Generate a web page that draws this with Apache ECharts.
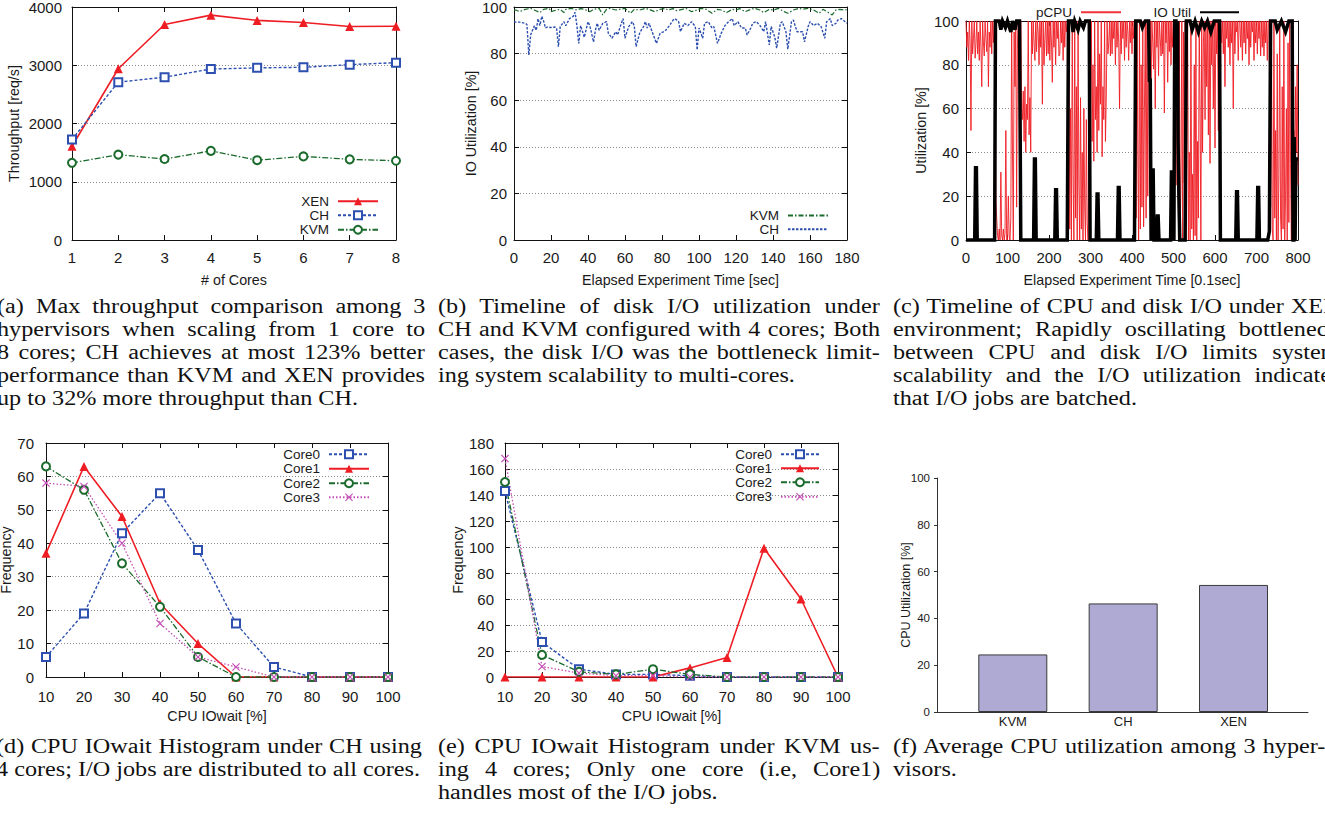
<!DOCTYPE html>
<html>
<head>
<meta charset="utf-8">
<script src="https://cdn.jsdelivr.net/npm/echarts@6.0.0/dist/echarts.min.js"></script>
<style>
html,body{margin:0;padding:0;background:#fff;width:1325px;height:813px;overflow:hidden;}
#chart{position:absolute;left:0;top:0;width:1325px;height:813px;}
.cap{position:absolute;transform-origin:0 0;font-family:'Liberation Serif','Times New Roman',Times,serif;font-size:20px;line-height:22.9px;color:#111;}
.cap div{white-space:nowrap;}
</style>
</head>
<body>
<div id="chart"></div>
<div id="caps"></div>
<script>
// ---------------- data ----------------
// (a) throughput vs cores
const coresA = [1,2,3,4,5,6,7,8];
const xenA = [1610,2940,3700,3860,3770,3735,3665,3670];
const chA  = [1725,2710,2795,2935,2955,2965,3010,3045];
const kvmA = [1325,1465,1390,1530,1370,1435,1385,1360];

// (b) IO utilization timeline (sec, %)
const chT = [0,1,3,6,7,8,9,10,11,12,13,14,15,16,17,18,20,22,23,24,25,27,28,30,32,33,34,35,36,38,40,41,43,44,45,46,48,50,51,53,55,56,58,59,60,62,64,65,66,68,70,71,72,73,75,77,79,81,82,84,86,87,89,90,92,94,96,98,99,100,102,103,105,107,108,110,112,114,116,118,119,121,123,125,126,128,129,131,133,135,136,138,139,141,142,144,145,147,148,150,151,153,155,156,157,159,160,162,164,166,168,169,171,172,174,175,177,179,180];
const chV = [93.7,93.5,93.5,93,92.5,79.4,88,90,92,90,95,92,96,94,91,91.4,91.2,91.4,91,83,91.6,93.7,92,95,96,97.7,92,84.4,92,87,93.7,92,85,90,93,90,93,93.7,88.7,86.6,89.4,88,93,95,86.6,91.6,93.7,92,83,89,91.6,93.7,91,93,88.7,84.4,88.7,89.4,90,92,94.4,95,93.7,89.4,93,92,93.7,91.6,81.6,91,86.6,93,93.7,91,91.6,84.4,88.7,92,93.7,95,92,93.7,91,91,88,91,93,93.7,92,89.4,93.7,83.7,91.6,87,82.3,93,93.7,89.4,81.9,93.7,94.4,89.4,89.4,89.4,85,91.6,93.7,92,93,91.6,86.6,93.7,95,92,93,94.4,95,93.7,93];
const kvT = [0,1,3,6,9,11,14,16,19,20,23,25,27,28,31,34,36,38,41,43,46,48,50,52,55,57,60,63,65,68,71,73,76,79,82,83,86,88,91,93,96,99,101,104,107,110,112,115,118,120,122,125,128,130,133,135,138,140,143,146,148,151,154,156,159,162,165,167,170,172,174,176,179,180];
const kvV = [98.7,98.7,98,99,99.4,98.7,97.6,99,99.4,98,98.7,99,97.6,99,99.4,98.7,99.3,99,98,99,99.4,96.6,99,99.4,98.7,99,99.4,97.3,99,98.7,99.4,99,98,99,99.4,98.7,99.3,98.4,99,99.4,98,98.7,99.4,99,97.3,99,98.7,97.6,99,98.7,99.3,98,99,99.4,98.7,97.6,99,98.7,99.4,98,97.3,98.7,99.4,99,99.4,98.7,97.3,99,97.6,96.6,98.7,99,98.7,99];

// (c) pCPU sampled every 2 units of 0.1 sec; IO util as (time, %) points
const cpuStep = 2;
const cpuC = [
100,88,95,82,100,90,50,100,85,92,
100,83,90,100,85,95,82,100,88,70,
100,90,84,100,92,86,100,70,95,88,
100,85,100,90,100,100,18,10,2,0,
5,0,31,2,0,5,0,3,50,0,
0,20,2,0,10,100,40,0,95,70,
100,15,90,100,70,5,100,60,55,68,
45,70,40,62,55,100,48,65,40,100,
85,100,90,82,100,86,100,95,80,100,
88,100,62,100,80,92,100,84,100,85,
100,82,100,90,72,100,88,100,80,100,
92,100,84,85,100,90,100,82,100,88,
100,95,100,20,100,5,60,0,100,30,
0,100,10,70,0,100,25,0,65,5,
40,0,60,15,0,55,8,0,30,100,
60,100,45,80,36,100,55,70,40,100,
50,85,62,100,38,70,55,100,45,65,
100,85,90,100,84,100,85,100,92,100,
80,100,88,100,90,60,100,85,100,92,
100,82,100,88,100,95,82,100,90,100,
85,100,92,100,100,10,100,40,0,100,
5,80,15,100,6,60,100,10,100,20,
100,85,100,70,100,90,78,100,60,100,
88,100,75,100,92,84,100,85,100,58,
100,90,100,72,100,86,100,80,100,88,
100,65,100,25,100,50,10,100,0,30,
100,0,95,26,100,0,60,100,0,40,
0,100,5,30,0,80,2,100,0,45,
10,100,60,0,100,40,90,100,55,100,
70,100,48,100,35,100,80,100,60,100,
42,100,85,100,50,100,20,100,90,100,
85,100,70,100,92,100,88,100,80,100,
90,100,60,100,85,100,95,100,82,100,
100,88,100,82,100,90,100,85,100,92,
100,80,100,88,100,95,100,82,100,90,
100,85,100,92,100,84,100,88,100,84,
100,90,100,82,100,100,60,15,100,5,
0,100,10,50,0,85,0,30,100,10,
0,70,5,100,0,20,60,0,90,8,
100,35,0,80,25,50,30,70,40,80,
25];
const ioT = [0,21,23,25,27,69,71,80,84,88,95,100,108,112,118,122,129,132,163,165,167,169,214,216,218,220,244,247,255,258,262,270,275,283,288,297,299,314,316,318,320,365,367,369,371,406,409,420,425,432,440,442,444,446,449,451,453,459,461,463,465,493,495,499,501,503,506,508,510,511,513,515,528,531,540,545,552,560,568,575,582,590,598,611,613,650,652,654,656,701,703,705,707,727,731,734,745,750,760,770,778,786,788,790,791,793,795,800];
const ioV = [0,0,33,33,0,0,100,100,96,100,97,100,95,100,96,100,100,0,0,37,37,0,0,23,23,0,0,100,100,95,100,96,100,97,100,100,0,0,21,21,0,0,24,24,0,0,100,100,97,100,100,73,73,0,32,32,0,0,11,11,0,0,31,31,0,100,100,87,100,45,20,0,0,100,100,96,100,95,100,97,100,95,100,100,0,0,22,22,0,0,24,24,0,0,4,100,100,96,100,95,100,100,0,0,47,0,37,37];

// (d) CPU IOwait histogram, CH
const binsD = [10,20,30,40,50,60,70,80,90,100];
const core0D = [6,19,43,55,38,16,3,0,0,0];
const core1D = [37,63,48,22,10,0,0,0,0,0];
const core2D = [63,56,34,21,6,0,0,0,0,0];
const core3D = [58,57,40,16,6,3,0,0,0,0];

// (e) CPU IOwait histogram, KVM
const binsE = [10,20,30,40,50,60,70,80,90,100];
const core0E = [143,27,6,2,2,1,0,0,0,0];
const core1E = [0,0,0,0,0,7,15,99,60,0];
const core2E = [150,17,4,2,6,2,0,0,0,0];
const core3E = [168,8,3,1,1,0,0,0,0,0];

// (f) average CPU utilization
const hypF = ['KVM','CH','XEN'];
const cpuF = [24.6,46.4,54.3];

// captions
const capA = ['(a) Max throughput comparison among 3','hypervisors when scaling from 1 core to','8 cores; CH achieves at most 123% better','performance than KVM and XEN provides','up to 32% more throughput than CH.'];
const capB = ['(b) Timeline of disk I/O utilization under','CH and KVM configured with 4 cores; Both','cases, the disk I/O was the bottleneck limit-','ing system scalability to multi-cores.'];
const capC = ['(c) Timeline of CPU and disk I/O under XEN','environment; Rapidly oscillating bottleneck','between CPU and disk I/O limits system','scalability and the I/O utilization indicates','that I/O jobs are batched.'];
const capD = ['(d) CPU IOwait Histogram under CH using','4 cores; I/O jobs are distributed to all cores.'];
const capE = ['(e) CPU IOwait Histogram under KVM us-','ing 4 cores; Only one core (i.e, Core1)','handles most of the I/O jobs.'];
const capF = ['(f) Average CPU utilization among 3 hyper-','visors.'];

// ---------------- style / layout ----------------
const W = 1325;
const FONT = "'Liberation Sans', Arial, Helvetica, sans-serif";
const TXT = '#1a1a1a';
const AX = '#111';
const RED = '#ee1d24', BLUE = '#2c4fb0', GREEN = '#1b6b2c', MAG = '#c54fb6', BLACK = '#000';
const XSYM = 'path://M1,0L5,4L9,0L10,1L6,5L10,9L9,10L5,6L1,10L0,9L4,5L0,1Z';
const pairs = (xs, ys) => xs.map((x, i) => [x, ys[i]]);
const plain = v => String(v);

const option = {
  animation: false,
  backgroundColor: '#fff',
  textStyle: {fontFamily: FONT},
  grid: [
    {left:72, top:7, width:324, height:233},
    {left:514, top:7, width:333, height:233},
    {left:966, top:21, width:332, height:219},
    {left:46, top:443, width:342, height:234},
    {left:505, top:443, width:333, height:234},
    {left:937, top:478, width:371, height:234}
  ].map(g => Object.assign({outerBoundsMode:'none', containLabel:false}, g)),
  xAxis: [], yAxis: [], legend: [], series: []
};

function gnuplotPanel(gi, xr, yr, xname, yname, lay) {
  const line = {show:true, onZero:false, lineStyle:{color:AX, width:1}};
  const tick = {show:true, inside:true, length:5, lineStyle:{color:AX, width:1}};
  const lab = {color:TXT, fontSize:15, fontFamily:FONT, formatter:plain};
  const nameStyle = {color:TXT, fontSize:14.3, fontFamily:FONT};
  option.xAxis.push({gridIndex:gi, type:'value', position:'bottom', min:xr[0], max:xr[1], interval:xr[2],
    axisLine:line, axisTick:tick, splitLine:{show:false},
    axisLabel:Object.assign({margin:lay.xm}, lab),
    name:xname, nameLocation:'middle', nameGap:lay.xg, nameTextStyle:nameStyle, nameMoveOverlap:false});
  option.xAxis.push({gridIndex:gi, type:'value', position:'top', min:xr[0], max:xr[1], interval:xr[2],
    axisLine:line, axisTick:tick, splitLine:{show:false}, axisLabel:{show:false}});
  option.yAxis.push({gridIndex:gi, type:'value', position:'left', min:yr[0], max:yr[1], interval:yr[2],
    axisLine:line, axisTick:tick,
    splitLine:{show:true, showMinLine:false, showMaxLine:false, lineStyle:{color:'#8a8a8a', type:[1,2], width:1}},
    axisLabel:Object.assign({margin:lay.ym}, lab),
    name:yname, nameLocation:'middle', nameGap:lay.yg, nameTextStyle:nameStyle, nameMoveOverlap:false});
  option.yAxis.push({gridIndex:gi, type:'value', position:'right', min:yr[0], max:yr[1], interval:yr[2],
    axisLine:line, axisTick:tick, splitLine:{show:false}, axisLabel:{show:false}});
}

function addLegend(name, label, iconRight, rowY, w, noSym) {
  const L = {data:[name], formatter:() => label, orient:'vertical', align:'right',
    right: W - iconRight, top: rowY - 6.75, itemWidth: w, itemHeight: 10, itemGap: 0, padding: 0,
    selectedMode: false, textStyle:{color:TXT, fontSize:13.5, fontFamily:FONT, padding:[0,4,0,0]}};
  if (noSym) L.itemStyle = {opacity: 0};
  option.legend.push(L);
}

function lineSeries(name, p, data, st) {
  return Object.assign({type:'line', name, xAxisIndex:2*p, yAxisIndex:2*p, data,
    animation:false, emphasis:{disabled:true}}, st);
}
const sXEN = c => ({symbol:'triangle', symbolSize:9, lineStyle:{color:c, width:1.6}, itemStyle:{color:c}});
const sDot = c => ({symbol:'emptyRect', symbolSize:8, lineStyle:{color:c, width:1.4, type:[3,2]}, itemStyle:{color:c, borderWidth:1.2}});
const sDashDot = c => ({symbol:'emptyCircle', symbolSize:8, lineStyle:{color:c, width:1.3, type:[6,2,1.5,2]}, itemStyle:{color:c, borderWidth:1.2}});
const sX = c => ({symbol:XSYM, symbolSize:8, lineStyle:{color:c, width:1.3, type:[1.5,2]}, itemStyle:{color:c}});

// (a)
gnuplotPanel(0, [1,8,1], [0,4000,1000], '# of Cores', 'Throughput [req/s]', {xm:10, xg:33, ym:10, yg:51});
option.series.push(lineSeries('a-XEN', 0, pairs(coresA, xenA), sXEN(RED)));
option.series.push(lineSeries('a-CH', 0, pairs(coresA, chA), sDot(BLUE)));
option.series.push(lineSeries('a-KVM', 0, pairs(coresA, kvmA), sDashDot(GREEN)));
addLegend('a-XEN', 'XEN', 379, 201, 40);
addLegend('a-CH', 'CH', 379, 215, 40);
addLegend('a-KVM', 'KVM', 379, 229.5, 40);

// (b)
gnuplotPanel(1, [0,180,20], [0,100,20], 'Elapsed Experiment Time [sec]', 'IO Utilization [%]', {xm:10, xg:33, ym:7, yg:36});
option.series.push(lineSeries('b-KVM', 1, pairs(kvT, kvV), {symbol:'none', lineStyle:{color:GREEN, width:1.2, type:[5,2,1.5,2]}, itemStyle:{color:GREEN}}));
option.series.push(lineSeries('b-CH', 1, pairs(chT, chV), {symbol:'none', lineStyle:{color:BLUE, width:1.4, type:[2.5,1.5]}, itemStyle:{color:BLUE}}));
addLegend('b-KVM', 'KVM', 829, 215.3, 40, true);
addLegend('b-CH', 'CH', 829, 229, 40, true);

// (c)
gnuplotPanel(2, [0,800,100], [0,100,20], 'Elapsed Experiment Time [0.1sec]', 'Utilization [%]', {xm:10, xg:33, ym:7, yg:38});
option.series.push(lineSeries('c-pCPU', 2, cpuC.map((v, i) => [i * cpuStep, v]), {symbol:'none', clip:true, lineStyle:{color:RED, width:1, opacity:0.9}, itemStyle:{color:RED}}));
option.series.push(lineSeries('c-IO', 2, pairs(ioT, ioV), {symbol:'none', clip:false, lineStyle:{color:BLACK, width:3.5, join:'miter'}, itemStyle:{color:BLACK}}));
addLegend('c-pCPU', 'pCPU', 1122, 12, 40, true);
addLegend('c-IO', 'IO Util', 1240, 12, 39, true);

// (d)
gnuplotPanel(3, [10,100,10], [0,70,10], 'CPU IOwait [%]', 'Frequency', {xm:12, xg:32, ym:12, yg:33});
option.series.push(lineSeries('d-Core0', 3, pairs(binsD, core0D), sDot(BLUE)));
option.series.push(lineSeries('d-Core1', 3, pairs(binsD, core1D), sXEN(RED)));
option.series.push(lineSeries('d-Core2', 3, pairs(binsD, core2D), sDashDot(GREEN)));
option.series.push(lineSeries('d-Core3', 3, pairs(binsD, core3D), sX(MAG)));
addLegend('d-Core0', 'Core0', 370, 454, 40);
addLegend('d-Core1', 'Core1', 370, 468.5, 40);
addLegend('d-Core2', 'Core2', 370, 483, 40);
addLegend('d-Core3', 'Core3', 370, 497, 40);

// (e)
gnuplotPanel(4, [10,100,10], [0,180,20], 'CPU IOwait [%]', 'Frequency', {xm:12, xg:32, ym:11, yg:40});
option.series.push(lineSeries('e-Core0', 4, pairs(binsE, core0E), sDot(BLUE)));
option.series.push(lineSeries('e-Core1', 4, pairs(binsE, core1E), sXEN(RED)));
option.series.push(lineSeries('e-Core2', 4, pairs(binsE, core2E), sDashDot(GREEN)));
option.series.push(lineSeries('e-Core3', 4, pairs(binsE, core3E), sX(MAG)));
addLegend('e-Core0', 'Core0', 820, 454, 38);
addLegend('e-Core1', 'Core1', 820, 468, 38);
addLegend('e-Core2', 'Core2', 820, 482, 38);
addLegend('e-Core3', 'Core3', 820, 496.5, 38);

// (f)
option.xAxis.push({gridIndex:5, type:'value', min:-0.687, max:2.675,
  axisLine:{show:true, onZero:false, lineStyle:{color:'#333', width:1}},
  axisTick:{show:false}, splitLine:{show:false},
  axisLabel:{customValues:[0,1,2], formatter:v => hypF[Math.round(v)] || '', color:TXT, fontSize:13, margin:3, fontFamily:FONT}});
option.yAxis.push({gridIndex:5, type:'value', min:0, max:100, interval:20,
  axisLine:{show:true, onZero:false, lineStyle:{color:'#333', width:1}},
  axisTick:{show:true, inside:false, length:3, lineStyle:{color:'#333'}}, splitLine:{show:false},
  axisLabel:{color:TXT, fontSize:11.5, margin:7, fontFamily:FONT, formatter:plain},
  name:'CPU Utilization [%]', nameLocation:'middle', nameGap:25, nameMoveOverlap:false,
  nameTextStyle:{color:TXT, fontSize:12.5, fontFamily:FONT}});
option.series.push({type:'bar', name:'f-cpu', xAxisIndex:10, yAxisIndex:10, barWidth:69,
  data: pairs([0,1,2], cpuF), itemStyle:{color:'#aeaad3', borderColor:'#3a3a3a', borderWidth:1},
  emphasis:{disabled:true}});

const chart = echarts.init(document.getElementById('chart'), null, {renderer:'svg'});
chart.setOption(option);

// ---------------- captions ----------------
const CAP_SX = 1.21;
function addCaption(lines, left, top, width) {
  const box = document.createElement('div');
  box.className = 'cap';
  box.style.left = left + 'px';
  box.style.top = top + 'px';
  box.style.transform = 'scaleX(' + CAP_SX + ')';
  const inner = width / CAP_SX;
  box.style.width = inner + 'px';
  document.getElementById('caps').appendChild(box);
  lines.forEach((t, i) => {
    const row = document.createElement('div');
    const span = document.createElement('span');
    span.textContent = t;
    row.appendChild(span);
    box.appendChild(row);
    if (i < lines.length - 1) {
      const gaps = (t.match(/ /g) || []).length;
      const nat = span.offsetWidth;
      if (gaps) row.style.wordSpacing = ((inner - nat) / gaps) + 'px';
    }
  });
}
addCaption(capA, -3, 295.2, 428);
addCaption(capB, 438, 295.2, 442);
addCaption(capC, 893, 295.2, 447);
addCaption(capD, -4, 735, 426);
addCaption(capE, 438, 735, 442);
addCaption(capF, 893, 735, 432);
</script>
</body>
</html>
